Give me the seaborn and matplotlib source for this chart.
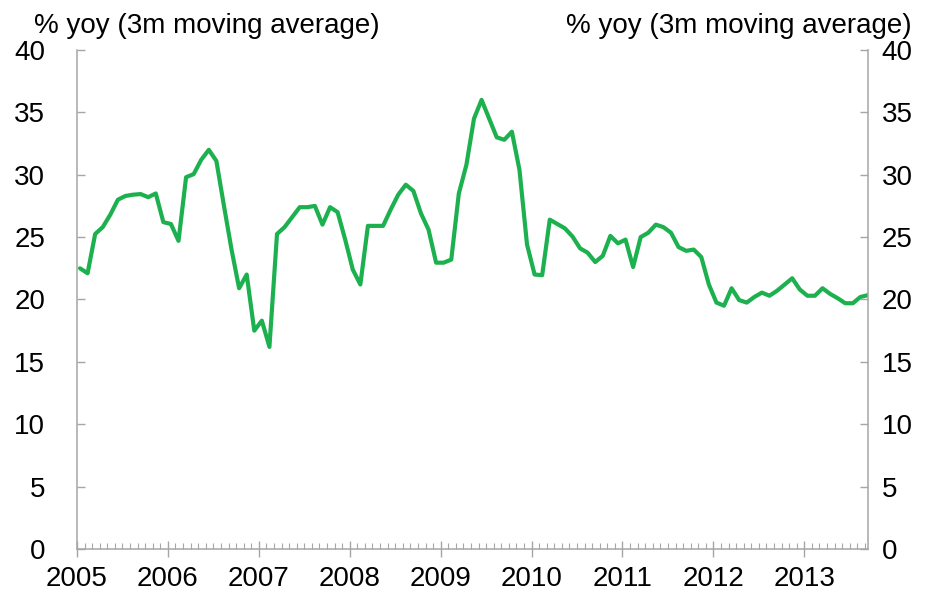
import numpy as np
import pandas as pd
import seaborn as sns
import matplotlib.pyplot as plt
from matplotlib.ticker import MultipleLocator

## DATA (monthly, Jan 2005 - Sep 2013)
start_year = 2005
yoy = [22.5, 22.1, 25.25, 25.8, 26.8, 28.0, 28.3, 28.4, 28.45, 28.2, 28.5, 26.2,
       26.05, 24.7, 29.8, 30.05, 31.2, 32.0, 31.1, 27.5, 24.0, 20.9, 22.0, 17.5,
       18.3, 16.2, 25.25, 25.8, 26.6, 27.4, 27.4, 27.5, 26.0, 27.4, 27.0, 24.8,
       22.4, 21.2, 25.9, 25.9, 25.9, 27.2, 28.4, 29.2, 28.7, 26.9, 25.6, 22.95,
       22.95, 23.2, 28.5, 30.8, 34.5, 36.0, 34.5, 33.0, 32.8, 33.45, 30.4, 24.4,
       22.0, 21.95, 26.4, 26.05, 25.7, 25.05, 24.1, 23.75, 23.0, 23.5, 25.1, 24.5,
       24.8, 22.6, 25.0, 25.35, 26.0, 25.8, 25.35, 24.2, 23.9, 24.0, 23.4, 21.2,
       19.75, 19.5, 20.9, 19.95, 19.75, 20.2, 20.55, 20.3, 20.7, 21.2, 21.7, 20.8,
       20.3, 20.3, 20.9, 20.45, 20.1, 19.7, 19.7, 20.2, 20.35]
year_ticks = list(range(2005, 2014))
y_label = '% yoy (3m moving average)'

month_idx = np.arange(len(yoy))
df = pd.DataFrame({'t': start_year + (month_idx + 0.4) / 12, 'yoy': yoy})

## PLOT
sns.set_style('white')
plt.rcParams['font.family'] = ['Liberation Sans', 'DejaVu Sans']
plt.rcParams['text.color'] = 'black'
plt.rcParams['xtick.labelcolor'] = 'black'
plt.rcParams['ytick.labelcolor'] = 'black'
grey = '#a6a6a6'

fig = plt.figure(figsize=(9.32, 6.03), dpi=100)
ax = fig.add_axes([0.0826, 0.0896, 0.8487, 0.8275])

sns.lineplot(data=df, x='t', y='yoy', color='#1db04f', linewidth=3.0, ax=ax)

ax.set_xlim(start_year, df['t'].iloc[-1])
ax.set_ylim(0, 40)
ax.set_xticks(year_ticks)
ax.xaxis.set_minor_locator(MultipleLocator(1 / 12))
ax.yaxis.set_major_locator(MultipleLocator(5))
ax.set_xlabel('')
ax.set_ylabel('')

for side in ['left', 'right', 'bottom']:
    ax.spines[side].set_visible(True)
    ax.spines[side].set_color(grey)
    ax.spines[side].set_linewidth(1.1)
ax.spines['top'].set_visible(False)

ax.tick_params(axis='x', which='major', direction='inout', length=12, width=1,
               color=grey, labelsize=20, pad=6, bottom=True)
ax.tick_params(axis='x', which='minor', direction='in', length=4, width=0.8,
               color=grey, bottom=True)
ax.tick_params(axis='y', which='major', direction='in', length=6, width=1,
               color=grey, labelsize=20, pad=23, left=True)

ax2 = ax.twinx()
ax2.set_ylim(0, 40)
ax2.yaxis.set_major_locator(MultipleLocator(5))
for side in ['left', 'right', 'bottom', 'top']:
    ax2.spines[side].set_visible(False)
ax2.tick_params(axis='y', which='major', direction='in', length=6, width=1,
                color=grey, labelsize=20, pad=10, right=True)
ax2.grid(False)

fig.text(0.036, 0.945, y_label, fontsize=20, ha='left', va='baseline')
fig.text(0.978, 0.945, y_label, fontsize=20, ha='right', va='baseline')

plt.savefig('out.png', dpi=100)
